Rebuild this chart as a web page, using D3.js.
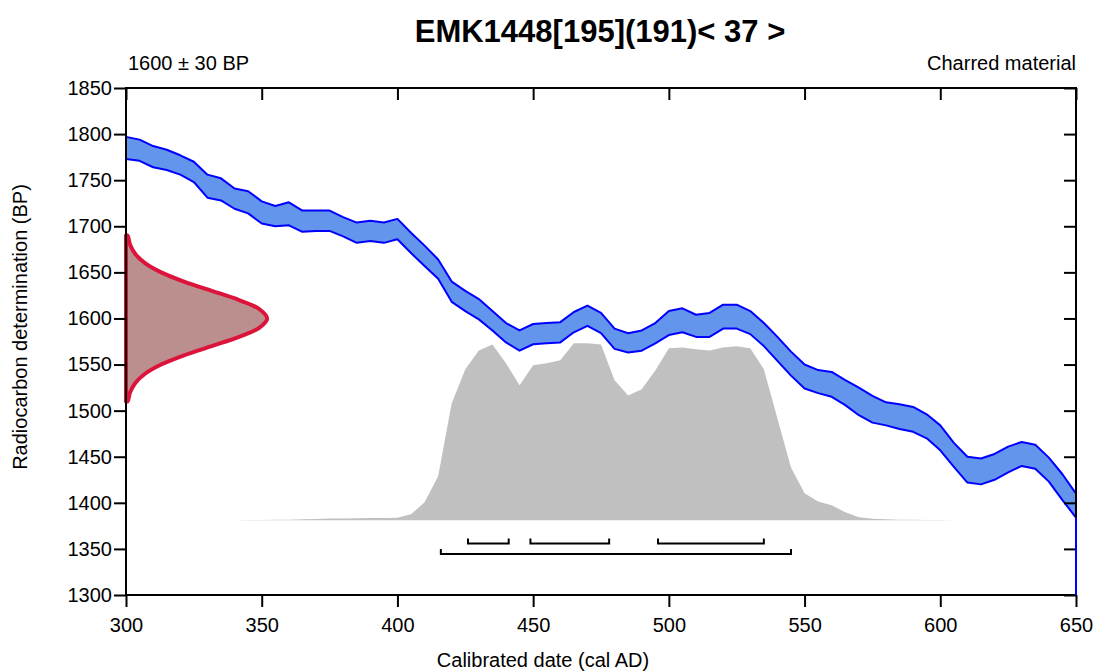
<!DOCTYPE html>
<html>
<head>
<meta charset="utf-8">
<script src="https://cdn.jsdelivr.net/npm/d3@7"></script>
<style>
  body { margin: 0; background: #fff; }
  svg { display: block; font-family: "Liberation Sans", Arial, Helvetica, sans-serif; }
</style>
</head>
<body>
<svg id="grafico" width="1095" height="671"></svg>
<script>
// calibration curve (IntCal, cal AD vs BP), upper and lower edge of the 1 sigma band
var anosCurva = [300,305,310,315,320,325,330,335,340,345,350,355,360,365,370,375,380,385,390,395,
    400,405,410,415,420,425,430,435,440,445,450,455,460,465,470,475,480,485,490,495,
    500,505,510,515,520,525,530,535,540,545,550,555,560,565,570,575,580,585,590,595,
    600,605,610,615,620,625,630,635,640,645,650];
var curvaSuperior = [1797,1794,1787,1783,1777,1770,1756,1752,1741,1738,1727,1722,1726,1717,1717,1717,1710,1704,1706,1704,
    1708,1693,1679,1664,1640,1630,1621,1608,1595,1587,1594,1595,1596,1607,1614,1606,1589,1584,1587,1595,
    1608,1611,1604,1606,1615,1615,1608,1595,1580,1564,1550,1544,1542,1533,1525,1516,1509,1507,1504,1496,
    1484,1465,1450,1448,1453,1461,1466,1463,1449,1431,1410];
var curvaInferior = [1773,1771,1764,1761,1756,1748,1731,1728,1719,1714,1703,1700,1701,1694,1695,1695,1689,1682,1684,1682,
    1686,1671,1657,1643,1618,1608,1599,1587,1574,1565,1572,1573,1574,1585,1592,1584,1567,1563,1565,1573,
    1582,1585,1580,1580,1589,1589,1583,1570,1554,1538,1524,1519,1515,1506,1495,1487,1484,1480,1477,1470,
    1457,1439,1422,1420,1425,1433,1440,1437,1423,1403,1384];

// radiocarbon measurement 1600 +- 30 BP, relative density read along the BP axis
var bpMedida = [1510,1520,1530,1540,1550,1560,1570,1580,1590,1600,1610,1620,1630,1640,1650,1660,1670,1680,1690];
var densMedida = [0.011,0.029,0.066,0.135,0.249,0.411,0.607,0.801,0.946,1,0.946,0.801,0.607,0.411,0.249,0.135,0.066,0.029,0.011];

// calibrated probability (relative)
var anosProb = [335,340,345,350,355,360,365,370,375,380,385,390,395,400,405,410,415,420,425,430,
    435,440,445,450,455,460,465,470,475,480,485,490,495,500,505,510,515,520,525,530,
    535,540,545,550,555,560,565,570,575,580,585,590,595,600,605,610];
var probCalib = [0,0.001,0.002,0.002,0.003,0.004,0.006,0.007,0.010,0.011,0.012,0.013,0.013,0.014,0.034,0.102,0.249,0.661,0.853,0.960,
    0.994,0.887,0.763,0.876,0.887,0.904,1,1,0.994,0.791,0.706,0.740,0.847,0.972,0.977,0.966,0.960,0.977,0.983,0.972,
    0.853,0.576,0.299,0.153,0.107,0.085,0.045,0.017,0.009,0.006,0.004,0.003,0.002,0.0015,0.001,0];

// ranges: 68.2% and 95.4%
var intervalos68 = [[426,441],[449,478],[496,535]];
var intervalos95 = [[416,545]];

var titulo = "EMK1448[195](191)< 37 >";
var textoMedida = "1600 \u00b1 30 BP";
var textoMaterial = "Charred material";
var ticksX = [300,350,400,450,500,550,600,650];
var ticksY = [1300,1350,1400,1450,1500,1550,1600,1650,1700,1750,1800,1850];

var svg = d3.select("#grafico");
var esq = 126, dir = 1076, topo = 88, base = 595;

var x = d3.scaleLinear().domain([300, 650]).range([esq, dir]);
var y = d3.scaleLinear().domain([1300, 1850]).range([base, topo]);
var largMedida = d3.scaleLinear().domain([0, 1]).range([300, 352]);
var altProb = d3.scaleLinear().domain([0, 1]).range([1381, 1573]);

var curva = anosCurva.map(function(a, i) {
    return {ano: a, sup: curvaSuperior[i], inf: curvaInferior[i]};
});

// calibration band
svg.append("path")
    .datum(curva)
    .attr("d", d3.area()
        .x(function(d) { return x(d.ano); })
        .y0(function(d) { return y(d.inf); })
        .y1(function(d) { return y(d.sup); }))
    .attr("fill", "#6495ed");

["sup", "inf"].forEach(function(lado) {
    svg.append("path")
        .datum(curva)
        .attr("d", d3.line()
            .x(function(d) { return x(d.ano); })
            .y(function(d) { return y(d[lado]); }))
        .attr("fill", "none")
        .attr("stroke", "#0000ff")
        .attr("stroke-width", 2)
        .attr("stroke-linejoin", "round");
});

// calibrated distribution
var prob = anosProb.map(function(a, i) { return {ano: a, p: probCalib[i]}; });
svg.append("path")
    .datum(prob)
    .attr("d", d3.area()
        .x(function(d) { return x(d.ano); })
        .y0(y(altProb(0)))
        .y1(function(d) { return y(altProb(d.p)); }))
    .attr("fill", "#c0c0c0");

// measurement distribution on the y axis
var medida = bpMedida.map(function(b, i) { return [x(largMedida(densMedida[i])), y(b)]; });
medida.unshift([x(300), y(bpMedida[0])]);
medida.push([x(300), y(bpMedida[bpMedida.length - 1])]);
svg.append("path")
    .attr("d", d3.line().curve(d3.curveCatmullRom)(medida) + "Z")
    .attr("fill", "#bc8f8f")
    .attr("stroke", "#dc143c")
    .attr("stroke-width", 4)
    .attr("stroke-linejoin", "round");

// range brackets
function desenharIntervalos(lista, bp) {
    svg.selectAll(null)
        .data(lista)
        .enter()
        .append("path")
        .attr("d", function(d) {
            var yy = y(bp);
            return "M" + x(d[0]) + "," + (yy - 5) + "V" + yy + "H" + x(d[1]) + "V" + (yy - 5);
        })
        .attr("fill", "none")
        .attr("stroke", "#000")
        .attr("stroke-width", 2);
}
desenharIntervalos(intervalos68, 1356);
desenharIntervalos(intervalos95, 1344.5);

// axes
function estilizar(g) {
    g.select(".domain").remove();
    g.selectAll("line").attr("stroke", "#000").attr("stroke-width", 2);
    g.selectAll("text").attr("font-size", 20).attr("fill", "#000")
        .attr("font-family", "\"Liberation Sans\", Arial, sans-serif");
}

svg.append("g")
    .attr("transform", "translate(0," + base + ")")
    .call(d3.axisBottom(x).tickValues(ticksX).tickSize(12).tickPadding(10.5).tickFormat(d3.format("d")))
    .call(estilizar);
svg.append("g")
    .attr("transform", "translate(" + esq + ",0)")
    .call(d3.axisLeft(y).tickValues(ticksY).tickSize(12).tickPadding(2).tickFormat(d3.format("d")))
    .call(estilizar);
svg.append("g")
    .attr("transform", "translate(0," + topo + ")")
    .call(d3.axisTop(x).tickValues(ticksX).tickSize(-12).tickFormat(""))
    .call(estilizar);
svg.append("g")
    .attr("transform", "translate(" + dir + ",0)")
    .call(d3.axisRight(y).tickValues(ticksY).tickSize(-12).tickFormat(""))
    .call(estilizar);

svg.append("rect")
    .attr("x", esq).attr("y", topo)
    .attr("width", dir - esq).attr("height", base - topo)
    .attr("fill", "none")
    .attr("stroke", "#000")
    .attr("stroke-width", 2);

// the band is closed down to the x axis at the right edge
var ultimo = curva[curva.length - 1];
svg.append("line")
    .attr("x1", x(ultimo.ano)).attr("x2", x(ultimo.ano))
    .attr("y1", y(ultimo.inf)).attr("y2", y(1300))
    .attr("stroke", "#0000ff")
    .attr("stroke-width", 2);

// texts
svg.append("text")
    .attr("x", 600).attr("y", 42)
    .attr("text-anchor", "middle")
    .attr("font-size", 31)
    .attr("font-weight", "bold")
    .text(titulo);
svg.append("text")
    .attr("x", 128).attr("y", 70)
    .attr("font-size", 20)
    .text(textoMedida);
svg.append("text")
    .attr("x", dir).attr("y", 70)
    .attr("text-anchor", "end")
    .attr("font-size", 20)
    .text(textoMaterial);
svg.append("text")
    .attr("x", 543).attr("y", 667)
    .attr("text-anchor", "middle")
    .attr("font-size", 20)
    .text("Calibrated date (cal AD)");
svg.append("text")
    .attr("transform", "translate(27,327) rotate(-90)")
    .attr("text-anchor", "middle")
    .attr("font-size", 20)
    .text("Radiocarbon determination (BP)");
</script>
</body>
</html>
